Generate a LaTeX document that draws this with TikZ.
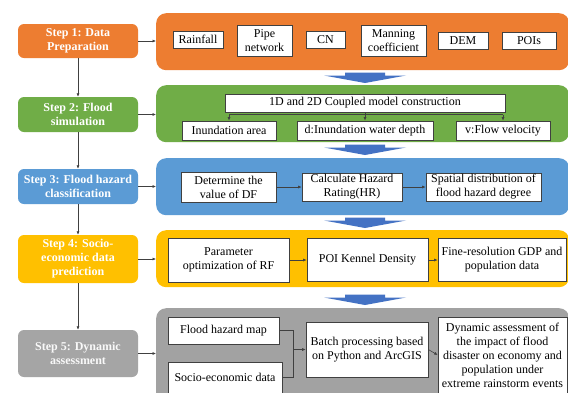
\documentclass[tikz,border=0pt]{standalone}
\usepackage{fontspec}
\setmainfont{Liberation Serif}
\usetikzlibrary{arrows.meta}
\definecolor{corange}{HTML}{ED7D31}
\definecolor{cgreen}{HTML}{70AD47}
\definecolor{cblue}{HTML}{5B9BD5}
\definecolor{cyellow}{HTML}{FFC000}
\definecolor{cgray}{HTML}{A5A5A5}
\definecolor{cpanelgray}{HTML}{A2A2A2}
\definecolor{carrow}{HTML}{4472C4}
\definecolor{cline}{HTML}{404040}
\tikzset{
  stepbox/.style={rounded corners=6pt, draw=none, text=white, align=center,
    font=\fontsize{12}{14}\selectfont\bfseries, minimum width=120pt, inner sep=1pt},
  panel/.style={rounded corners=10pt, draw=none, anchor=north west, minimum width=413pt, inner sep=0pt},
  wbox/.style={draw=cline, fill=white, line width=0.7pt, align=center,
    font=\fontsize{12}{14}\selectfont, inner sep=1pt},
  conn/.style={draw=cline, line width=0.6pt},
  arr/.style={conn, -{Latex[length=3.5pt,width=3pt]}},
  bigarrow/.style={fill=carrow, draw=none}
}
\newcommand{\blockarr}[1]{%
  \fill[carrow] (345,#1) -- (385,#1) -- (385,#1+3) -- (406,#1+3) -- (365,#1+10.5) -- (324,#1+3) -- (345,#1+3) -- cycle;}
\begin{document}
\begin{tikzpicture}[x=1pt,y=-1pt]
\useasboundingbox (0,0) rectangle (568,392);
\fill[white] (0,0) rectangle (568,392);

% panels
\node[panel, fill=corange, minimum height=57pt] (p1) at (156,13) {};
\node[panel, fill=cgreen, minimum height=57pt] (p2) at (156,85) {};
\node[panel, fill=cblue, minimum height=57pt] (p3) at (156,158) {};
\node[panel, fill=cyellow, minimum height=57pt] (p4) at (156,230) {};
\node[panel, fill=cpanelgray, minimum height=95pt] (p5) at (156,308) {};

% step boxes
\node[stepbox, fill=corange, minimum height=34pt] (s1) at (78,41) {Step 1: Data\\Preparation};
\node[stepbox, fill=cgreen, minimum height=35pt] (s2) at (78,114.5) {Step 2: Flood\\simulation};
\node[stepbox, fill=cblue, minimum height=35pt] (s3) at (78,186.5) {Step 3: Flood hazard\\classification};
\node[stepbox, fill=cyellow, minimum height=48pt] (s4) at (78,259) {Step 4: Socio-\\economic data\\prediction};
\node[stepbox, fill=cgray, text=white!95!gray, minimum height=47pt] (s5) at (78,353.5) {Step 5: Dynamic\\assessment};

\draw[arr] (s1.south) -- (s2.north);
\draw[arr] (s2.south) -- (s3.north);
\draw[arr] (s3.south) -- (s4.north);
\draw[arr] (s4.south) -- (s5.north);
\draw[arr] (s1.east) -- (s1.east -| p1.west);
\draw[arr] (s2.east) -- (s2.east -| p2.west);
\draw[arr] (s3.east) -- (s3.east -| p3.west);
\draw[arr] (s4.east) -- (s4.east -| p4.west);
\draw[arr] (s5.east) -- (s5.east -| p5.west);

% block arrows between panels
\blockarr{72.5}
\blockarr{144.5}
\blockarr{217.5}
\blockarr{294.5}

% panel 1
\node[wbox, minimum width=50pt, minimum height=17pt] (rain) at (198,39.5) {Rainfall};
\node[wbox, minimum width=55pt, minimum height=31pt] (pipe) at (264.5,40.5) {Pipe\\network};
\node[wbox, minimum width=39pt, minimum height=17pt] (cn) at (325.5,39.5) {CN};
\node[wbox, minimum width=65pt, minimum height=31pt] (mann) at (393.5,40.5) {Manning\\coefficient};
\node[wbox, minimum width=50pt, minimum height=17pt] (dem) at (463,40.5) {DEM};
\node[wbox, minimum width=54pt, minimum height=17pt] (pois) at (529,40.5) {POIs};

% panel 2
\node[wbox, minimum width=280pt, minimum height=18pt] (cpl) at (365,103) {1D and 2D Coupled model construction};
\node[wbox, minimum width=94pt, minimum height=19pt] (ia) at (229,130.5) {Inundation area};
\node[wbox, minimum width=136pt, minimum height=19pt] (dd) at (365,130.5) {d:Inundation water depth};
\node[wbox, minimum width=94pt, minimum height=19pt] (fv) at (503,130.5) {v:Flow velocity};
\coordinate (br) at (365,114.5);
\draw[conn] (cpl.south) -- (br);
\draw[conn] (ia.north |- br) -- (fv.north |- br);
\draw[arr] (ia.north |- br) -- (ia.north);
\draw[arr] (br) -- (dd.north);
\draw[arr] (fv.north |- br) -- (fv.north);

% panel 3
\node[wbox, minimum width=95pt, minimum height=30pt] (df) at (228.5,187) {Determine the\\value of DF};
\node[wbox, minimum width=100pt, minimum height=28pt] (hr) at (352,187) {Calculate Hazard\\Rating(HR)};
\node[wbox, minimum width=115pt, minimum height=28pt] (sd) at (483.5,187) {Spatial distribution of\\flood hazard degree};
\draw[arr] (df.east) -- (hr.west);
\draw[arr] (hr.east) -- (sd.west);

% panel 4
\node[wbox, minimum width=121pt, minimum height=44pt] (rf) at (228.5,260) {Parameter\\optimization of RF};
\node[wbox, minimum width=121pt, minimum height=43pt] (kd) at (367.5,260) {POI Kennel Density};
\node[wbox, minimum width=128pt, minimum height=43pt] (gdp) at (502,260) {Fine-resolution GDP and\\population data};
\draw[arr] (rf.east) -- (kd.west);
\draw[arr] (kd.east) -- (gdp.west);

% panel 5
\node[wbox, minimum width=111pt, minimum height=27pt] (fhm) at (223.5,330.5) {Flood hazard map};
\node[wbox, minimum width=114pt, minimum height=31pt] (sed) at (225,377.5) {Socio-economic data};
\node[wbox, minimum width=122pt, minimum height=55pt] (bp) at (367,349.5) {Batch processing based\\on Python and ArcGIS};
\node[wbox, minimum width=129pt, minimum height=76pt] (da) at (502.5,355) {Dynamic assessment of\\the impact of flood\\disaster on economy and\\population under\\extreme rainstorm events};
\coordinate (j) at (293,350);
\draw[conn] (fhm.east) -| (j |- sed.east) -- (sed.east);
\draw[arr] (j |- bp.west) -- (bp.west);
\draw[arr] (bp.east) -- (da.west);
\end{tikzpicture}
\end{document}
